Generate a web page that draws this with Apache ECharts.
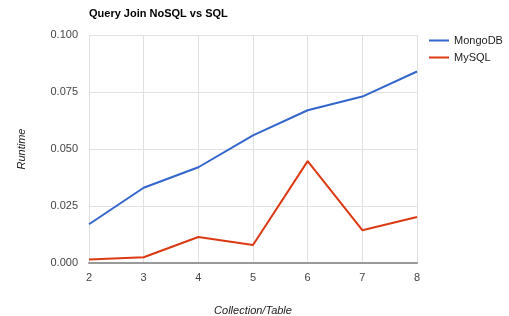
<!DOCTYPE html>
<html lang="en">
<head>
    <meta charset="UTF-8">
    <title>Query Join NoSQL vs SQL</title>
    <style>
        html, body { margin: 0; padding: 0; background: #fff; }
        #chart { width: 509px; height: 316px; }
    </style>
</head>
<body>
    <div id="chart"></div>
    <script src="https://cdn.jsdelivr.net/npm/echarts@6/dist/echarts.min.js"></script>
    <script>
        // data
        var categories = ['2', '3', '4', '5', '6', '7', '8'];
        var mongoData = [0.017, 0.033, 0.042, 0.056, 0.067, 0.073, 0.084];
        var mysqlData = [0.0015, 0.0025, 0.0114, 0.0079, 0.0447, 0.0144, 0.0202];

        var font = 'Liberation Sans, Arial, sans-serif';
        var myChart = echarts.init(document.getElementById('chart'));
        var option = {
            animation: false,
            color: ['#3366cc', '#dc3912'],
            textStyle: { fontFamily: font },
            title: {
                text: 'Query Join NoSQL vs SQL',
                left: 84,
                top: 3,
                textStyle: { fontSize: 11, fontWeight: 'bold', color: '#000', fontFamily: font }
            },
            legend: {
                orient: 'vertical',
                left: 424,
                top: 30,
                itemWidth: 20,
                itemHeight: 2,
                itemGap: 6,
                icon: 'rect',
                textStyle: { fontSize: 11, color: '#222', fontFamily: font }
            },
            grid: { left: 89, right: 92, top: 35, bottom: 53, outerBoundsMode: 'none' },
            xAxis: {
                type: 'category',
                data: categories,
                boundaryGap: false,
                name: 'Collection/Table',
                nameLocation: 'middle',
                nameGap: 42,
                nameTextStyle: { fontStyle: 'italic', fontSize: 11, color: '#222' },
                axisLine: { lineStyle: { color: '#999', width: 2 } },
                axisTick: { show: false },
                axisLabel: { fontSize: 11, color: '#444', margin: 9 },
                splitLine: { show: true, lineStyle: { color: '#e0e0e0', width: 1 } }
            },
            yAxis: {
                type: 'value',
                min: 0,
                max: 0.1,
                interval: 0.025,
                name: 'Runtime',
                nameLocation: 'middle',
                nameGap: 62,
                nameRotate: 90,
                nameTextStyle: { fontStyle: 'italic', fontSize: 11, color: '#222' },
                axisLine: { show: false },
                axisTick: { show: false },
                axisLabel: {
                    fontSize: 11, color: '#444', margin: 11,
                    formatter: function (v) { return v.toFixed(3); }
                },
                splitLine: { lineStyle: { color: '#e0e0e0', width: 1 } }
            },
            series: [{
                name: 'MongoDB',
                type: 'line',
                data: mongoData,
                symbol: 'none',
                lineStyle: { width: 2 }
            }, {
                name: 'MySQL',
                type: 'line',
                data: mysqlData,
                symbol: 'none',
                lineStyle: { width: 2 }
            }]
        };
        myChart.setOption(option);
    </script>
</body>
</html>
